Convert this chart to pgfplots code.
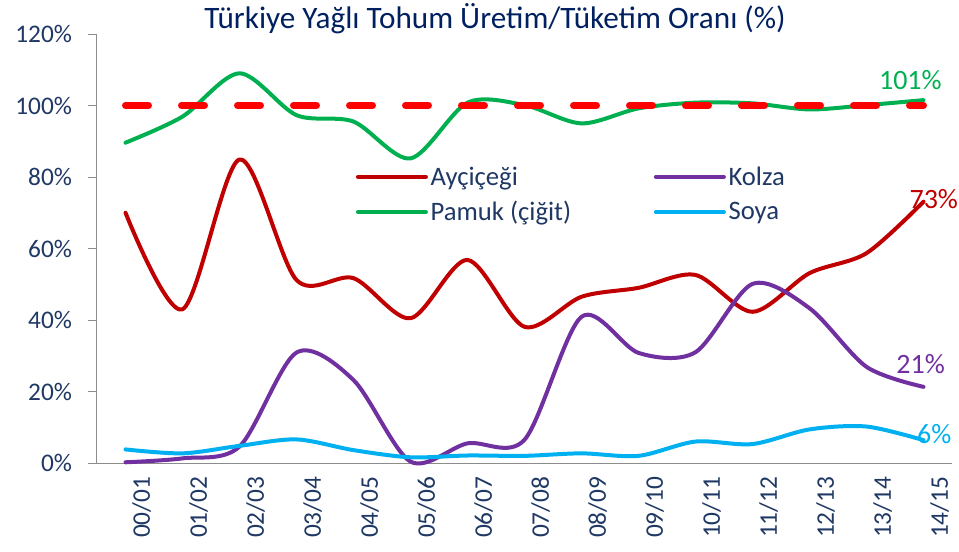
\documentclass[border=0pt]{standalone}
\usepackage{pgfplots}
\pgfplotsset{compat=1.18}
\usepackage{pgfplotstable}
\usepackage{fontspec}
\setmainfont{Carlito}
\definecolor{ayc}{HTML}{C00000}
\definecolor{kol}{HTML}{7030A0}
\definecolor{pam}{HTML}{00B050}
\definecolor{soy}{HTML}{00B0F0}
\definecolor{navy}{HTML}{1F3864}
\definecolor{tblue}{HTML}{002060}
\definecolor{axgray}{HTML}{8C8C8C}
\pgfplotstableread{
x ayc kol pam soy
0 70.0 0.2 89.6 3.8
1 43.0 1.3 96.9 2.7
2 84.9 4.6 109.0 4.8
3 51.2 30.9 97.3 6.6
4 51.7 23.2 95.5 3.6
5 40.5 0.4 85.2 1.6
6 56.8 5.5 100.8 2.1
7 38.1 6.5 100.1 2.0
8 46.5 40.9 95.0 2.7
9 49.0 30.8 99.2 2.0
10 52.6 31.0 100.8 6.0
11 42.3 50.1 100.6 5.3
12 53.1 43.3 98.9 9.4
13 58.7 26.9 100.1 10.2
14 73.1 21.3 101.5 6.4
}\datatable
\begin{document}
\begin{tikzpicture}
\useasboundingbox (-72.75pt,-66pt) rectangle (646.5pt,347.25pt);
\begin{axis}[
  at={(0pt,0pt)}, anchor=south west,
  width=641.25pt, height=321.75pt, scale only axis,
  xmin=-0.5, xmax=14.5, ymin=0, ymax=120,
  clip=false,
  axis x line*=bottom, axis y line*=left,
  axis line style={draw=axgray, line width=0.75pt, -},
  xtick={0,...,14},
  xticklabels={00/01,01/02,02/03,03/04,04/05,05/06,06/07,07/08,08/09,09/10,10/11,11/12,12/13,13/14,14/15},
  x tick style={draw=none},
  xticklabel style={rotate=90, anchor=east, yshift=-12pt},
  ytick={0,20,...,120},
  yticklabel={\pgfmathprintnumber{\tick}\%},
  /pgf/number format/assume math mode=true,
  y tick style={draw=axgray, line width=0.75pt},
  tick align=outside, major tick length=6.75pt,
  yticklabel style={xshift=-8.5pt},
  tick label style={font=\fontsize{19}{22}\selectfont, text=navy},
  legend columns=2,
  legend cell align=left,
  legend image code/.code={\draw[#1] (0pt,0pt) -- (51pt,0pt);},
  legend style={draw=none, fill=none, at={(191pt,226.5pt)}, anchor=north west,
    font=\fontsize{20}{24}\selectfont, text=navy, row sep=6.75pt,
    /tikz/every even column/.append style={column sep=60pt}},
  every axis plot/.append style={line width=3pt, line join=round, line cap=round},
]
\addplot[ayc, smooth] table[x=x, y=ayc] {\datatable};
\addlegendentry{Ayçiçeği}
\addplot[kol, smooth] table[x=x, y=kol] {\datatable};
\addlegendentry{Kolza}
\addplot[pam, smooth] table[x=x, y=pam] {\datatable};
\addlegendentry{Pamuk (çiğit)}
\addplot[soy, smooth] table[x=x, y=soy] {\datatable};
\addlegendentry{Soya}
\addplot[red, line width=5.25pt, line cap=round, dash pattern=on 17.25pt off 24.75pt, forget plot] coordinates {(0,100) (14,100)};
\node[font=\fontsize{23.4}{28}\selectfont, text=tblue, anchor=base, yshift=4.5pt] at (rel axis cs:0.4655,1) {Türkiye Yağlı Tohum Üretim/Tüketim Oranı (\%)};
\node[font=\fontsize{21}{25}\selectfont, text=pam] at (axis cs:13.77,107.1) {101\%};
\node[font=\fontsize{21}{25}\selectfont, text=ayc] at (axis cs:14.18,73.8) {73\%};
\node[font=\fontsize{21}{25}\selectfont, text=kol] at (axis cs:13.95,27.6) {21\%};
\node[font=\fontsize{21}{25}\selectfont, text=soy] at (axis cs:14.19,8.1) {6\%};
\end{axis}
\end{tikzpicture}
\end{document}
